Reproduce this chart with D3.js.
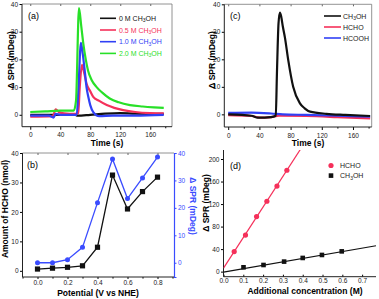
<!DOCTYPE html>
<html>
<head>
<meta charset="utf-8">
<script src="https://cdn.jsdelivr.net/npm/d3@7"></script>
<style>
  body { margin: 0; background: #fff; }
  svg { font-family: "Liberation Sans", Arial, sans-serif; }
  .tick text { font-size: 6.5px; fill: #222; }
  .title { font-size: 8.5px; font-weight: bold; }
</style>
</head>
<body>
<div id="chart"></div>
<script>
// ---- data ----

// (a) SPR response vs time, different CH3OH concentrations [t, mDeg]
var aNames = ["0 M", "0.5 M", "1.0 M", "2.0 M"];
var aColors = ["#111111", "#f5305a", "#3040f5", "#28e028"];
var a0M = [[0,0],[30,0],[60,0],[63,-0.3],[80,0],[100,0.4],[120,0.6],[140,0.4],[178,0.3]];
var a05M = [[0,-0.7],[30,-0.5],[34,2],[38,1],[45,0.5],[60,0.3],[64,0.6],[66,10],[69,18],[72,15],[75,11.3],[80,8.5],[84,6.5],[92,5],[102,3.5],[112,2.5],[124,1.7],[140,1],[160,0.6],[178,0.5]];
var a10M = [[0,-0.3],[25,-0.3],[31,-1],[34,0.3],[40,0],[62,0],[64,8],[67.6,26],[70,22],[73,15],[75,10],[77.4,6.5],[80,3.5],[84,1],[92,-0.5],[110,-0.3],[140,-0.3],[178,0]];
var a20M = [[0,1],[20,1.2],[40,1.5],[58,1.5],[61,5],[65,38.5],[68,32],[70.7,25.8],[74,20],[77,16],[82,12.5],[88.5,10],[96,8],[106,5.9],[118,4.5],[133,3.5],[150,3],[165,2.7],[178,2.5]];

// (c) SPR response vs time, different species
var cNames = ["CH3OH", "HCHO", "HCOOH"];
var cColors = ["#111111", "#f5305a", "#3040f5"];
var cCH3OH = [[0,0],[30,-0.5],[38,-1.2],[55,-1],[61,-0.5],[62.5,15],[64.5,33],[66.3,37],[68,35.5],[70,32],[72.7,28],[77,19.7],[83.3,10],[92,4],[98,2.2],[105,1],[126,0.2],[150,-0.2],[182,-0.6]];
var cHCHO = [[0,-0.3],[30,-0.6],[40,-1.2],[55,-1],[65,-0.5],[100,-0.6],[140,-1],[182,-1.5]];
var cHCOOH = [[0,0.5],[30,0.6],[55,0.3],[70,0],[100,-0.2],[140,-0.5],[182,-0.8]];

// (b) amount of HCHO and SPR vs potential
var bPotential = [0.0, 0.1, 0.2, 0.3, 0.4, 0.5, 0.6, 0.7, 0.8];
var bHCHO = [0.6, 0.9, 1.2, 1.7, 8.0, 32.5, 21, 26.9, 31.8];
var bSPR = [0, 0, 1.1, 5.6, 21.9, 37.8, 23.4, 30.9, 38.5];

// (d) SPR vs additional concentration
var dHCHOx = [0.054, 0.111, 0.167, 0.219, 0.27, 0.32];
var dHCHOy = [35.6, 65, 97.8, 125, 152, 180];
var dCH3OHx = [0.101, 0.202, 0.306, 0.40, 0.497, 0.597];
var dCH3OHy = [7.7, 11.8, 17.8, 24.3, 29.6, 36];
var dHCHOfit = [6.3, 543];   // intercept, slope
var dCH3OHfit = [-1, 61];

var svg = d3.select("#chart").append("svg")
    .attr("width", 379)
    .attr("height", 299);

// draws the frame of a panel: axes, and optionally the top/right box
function frame(x, y, opt) {
    var x0 = x.range()[0], x1 = x.range()[1];
    var y0 = y.range()[0], y1 = y.range()[1];
    var g = svg.append("g");
    var xs = opt.xs == null ? 3 : opt.xs, xp = opt.xp == null ? 3 : opt.xp;
    // bottom
    g.append("g").attr("transform", "translate(0," + y0 + ")")
        .call(d3.axisBottom(x).tickValues(opt.xt).tickFormat(opt.xf).tickSize(xs).tickPadding(xp))
        .call(function(s){ s.select(".domain").remove(); });
    if (opt.xm) {
        g.append("g").attr("transform", "translate(0," + y0 + ")")
            .call(d3.axisBottom(x).tickValues(opt.xm).tickFormat("").tickSize(xs > 0 ? 1.6 : -1.6))
            .call(function(s){ s.select(".domain").remove(); });
    }
    // left
    g.append("g").attr("transform", "translate(" + x0 + ",0)")
        .call(d3.axisLeft(y).tickValues(opt.yt).tickSize(2.5).tickPadding(1.5))
        .call(function(s){ s.select(".domain").remove(); });
    if (opt.box) {
        g.append("g").attr("transform", "translate(0," + y1 + ")")
            .call(d3.axisBottom(x).tickValues(opt.xt).tickFormat("").tickSize(2))
            .call(function(s){ s.select(".domain").remove(); s.selectAll("line").attr("stroke", "#666"); });
        g.append("line").attr("x1", x0).attr("x2", x1).attr("y1", y1).attr("y2", y1)
            .attr("stroke", "#777").attr("stroke-width", 0.8);
        if (!opt.noRight) {
            g.append("line").attr("x1", x1).attr("x2", x1).attr("y1", y1).attr("y2", y0)
                .attr("stroke", "#777").attr("stroke-width", 0.8);
        }
    }
    g.append("line").attr("x1", x0).attr("x2", x1).attr("y1", y0).attr("y2", y0)
        .attr("stroke", "#222").attr("stroke-width", 1);
    g.append("line").attr("x1", x0).attr("x2", x0).attr("y1", y1).attr("y2", y0)
        .attr("stroke", "#222").attr("stroke-width", 1);
}

function chemLabel(sel, prefix) {
    sel.append("tspan").text(prefix + "CH");
    sel.append("tspan").text("3").attr("font-size", "5px").attr("dy", 1.5);
    sel.append("tspan").text("OH").attr("dy", -1.5);
}

var trace = d3.line().curve(d3.curveMonotoneX)
    .x(function(d){ return d[0]; }).y(function(d){ return d[1]; });
var line = d3.line().x(function(d){ return d[0]; }).y(function(d){ return d[1]; });

// ---------- panel (a) ----------
var ax = d3.scaleLinear().domain([-11, 189]).range([22, 172]);
var ay = d3.scaleLinear().domain([-4.3, 40]).range([126.7, 4]);
frame(ax, ay, {xt: [0,40,80,120,160], xm: [20,60,100,140,180], yt: [0,10,20,30,40], box: true});

[a0M, a05M, a10M, a20M].forEach(function(s, i) {
    svg.append("path")
        .attr("d", trace(s.map(function(d){ return [ax(d[0]), ay(d[1])]; })))
        .attr("fill", "none").attr("stroke", aColors[i]).attr("stroke-width", 2.2)
        .attr("stroke-linejoin", "round");
});
aNames.forEach(function(n, i) {
    var yy = 18.3 + i * 11.7;
    svg.append("line").attr("x1", 100).attr("x2", 116).attr("y1", yy).attr("y2", yy)
        .attr("stroke", aColors[i]).attr("stroke-width", 1.6);
    var t = svg.append("text").attr("x", 119).attr("y", yy + 2.5)
        .attr("font-size", "7px").attr("fill", aColors[i]);
    chemLabel(t, n + " ");
});
svg.append("text").attr("x", 28).attr("y", 19).attr("font-size", "9px").text("(a)");
svg.append("text").attr("class", "title").attr("x", 107).attr("y", 146)
    .attr("text-anchor", "middle").text("Time (s)");
svg.append("text").attr("class", "title")
    .attr("transform", "translate(14,60) rotate(-90)")
    .attr("text-anchor", "middle").text("\u0394 SPR (mDeg)");

// ---------- panel (c) ----------
var cx = d3.scaleLinear().domain([-5, 184]).range([224.3, 371.7]);
var cy = d3.scaleLinear().domain([-4.6, 40]).range([127, 4.3]);
frame(cx, cy, {xt: [0,40,80,120,160], xm: [20,60,100,140,180], yt: [0,10,20,30,40], box: true});

[cHCHO, cHCOOH, cCH3OH].forEach(function(s, k) {
    var i = [1, 2, 0][k];
    svg.append("path")
        .attr("d", trace(s.map(function(d){ return [cx(d[0]), cy(d[1])]; })))
        .attr("fill", "none").attr("stroke", cColors[i]).attr("stroke-width", 2.2)
        .attr("stroke-linejoin", "round");
});
cNames.forEach(function(n, i) {
    var yy = 16 + i * 11;
    svg.append("line").attr("x1", 324).attr("x2", 341).attr("y1", yy).attr("y2", yy)
        .attr("stroke", cColors[i]).attr("stroke-width", 1.6);
    var t = svg.append("text").attr("x", 343).attr("y", yy + 2.5)
        .attr("font-size", "7px").attr("fill", "#222");
    if (n == "CH3OH") chemLabel(t, "");
    else t.text(n);
});
svg.append("text").attr("x", 230).attr("y", 19).attr("font-size", "9px").text("(c)");
svg.append("text").attr("class", "title").attr("x", 308).attr("y", 146)
    .attr("text-anchor", "middle").text("Time (s)");
svg.append("text").attr("class", "title")
    .attr("transform", "translate(215,60) rotate(-90)")
    .attr("text-anchor", "middle").text("\u0394 SPR (mDeg)");

// ---------- panel (b) ----------
var bx = d3.scaleLinear().domain([-0.1, 0.91]).range([22.5, 174]);
var by = d3.scaleLinear().domain([-2.1, 40]).range([277, 153]);
var by2 = d3.scaleLinear().domain([-5.2, 40]).range([277, 153]);
frame(bx, by, {xt: [0,0.2,0.4,0.6,0.8], xf: d3.format(".1f"), xm: [-0.1,0.1,0.3,0.5,0.7,0.9],
    xs: 2, xp: 1.5, yt: [0,10,20,30,40], box: true, noRight: true});
// right blue axis
var right = svg.append("g").attr("transform", "translate(174,0)")
    .call(d3.axisRight(by2).tickValues([0,10,20,30,40]).tickSize(2.5).tickPadding(1.5));
right.select(".domain").attr("stroke", "#3a4cff").attr("stroke-width", 1.2);
right.selectAll("line").attr("stroke", "#3a4cff");
right.selectAll("text").style("fill", "#3a4cff");

svg.append("path")
    .attr("d", line(bPotential.map(function(p, i){ return [bx(p), by(bHCHO[i])]; })))
    .attr("fill", "none").attr("stroke", "#111").attr("stroke-width", 1.3);
svg.append("path")
    .attr("d", line(bPotential.map(function(p, i){ return [bx(p), by2(bSPR[i])]; })))
    .attr("fill", "none").attr("stroke", "#3a4cff").attr("stroke-width", 1.3);
svg.selectAll(".bsq").data(bPotential).enter().append("rect")
    .attr("x", function(p){ return bx(p) - 2.6; })
    .attr("y", function(p, i){ return by(bHCHO[i]) - 2.6; })
    .attr("width", 5.2).attr("height", 5.2).attr("fill", "#111");
svg.selectAll(".bci").data(bPotential).enter().append("circle")
    .attr("cx", function(p){ return bx(p); })
    .attr("cy", function(p, i){ return by2(bSPR[i]); })
    .attr("r", 2.5).attr("fill", "#3a4cff");
svg.append("text").attr("x", 27).attr("y", 168).attr("font-size", "9px").text("(b)");
svg.append("text").attr("class", "title").attr("x", 98).attr("y", 296)
    .attr("text-anchor", "middle").text("Potential (V vs NHE)");
svg.append("text").attr("class", "title")
    .attr("transform", "translate(8,209) rotate(-90)")
    .attr("text-anchor", "middle").text("Amount of HCHO (nmol)");
svg.append("text").attr("class", "title").attr("fill", "#3a4cff")
    .attr("transform", "translate(190,206) rotate(90)")
    .attr("text-anchor", "middle").text("\u0394 SPR (mDeg)");

// ---------- panel (d) ----------
var dx = d3.scaleLinear().domain([0, 0.77]).range([223.5, 376]);
var dy = d3.scaleLinear().domain([-9, 216]).range([276.7, 150]);
frame(dx, dy, {xt: [0,0.1,0.2,0.3,0.4,0.5,0.6,0.7], xf: d3.format(".1f"), xs: -2, xp: 1.5,
    yt: [0,40,80,120,160,200], box: false});

svg.append("clipPath").attr("id", "dclip").append("rect")
    .attr("x", 223.5).attr("y", 150).attr("width", 160).attr("height", 127);
var dg = svg.append("g").attr("clip-path", "url(#dclip)");
dg.append("line")
    .attr("x1", dx(0)).attr("y1", dy(dCH3OHfit[0]))
    .attr("x2", dx(0.77)).attr("y2", dy(dCH3OHfit[0] + dCH3OHfit[1] * 0.77))
    .attr("stroke", "#111").attr("stroke-width", 1.2);
dg.append("line")
    .attr("x1", dx(0)).attr("y1", dy(dHCHOfit[0]))
    .attr("x2", dx(0.4)).attr("y2", dy(dHCHOfit[0] + dHCHOfit[1] * 0.4))
    .attr("stroke", "#f5305a").attr("stroke-width", 1.2);
dg.selectAll(".dci").data(dHCHOx).enter().append("circle")
    .attr("cx", function(v){ return dx(v); })
    .attr("cy", function(v, i){ return dy(dHCHOy[i]); })
    .attr("r", 2.6).attr("fill", "#f5305a");
dg.selectAll(".dsq").data(dCH3OHx).enter().append("rect")
    .attr("x", function(v){ return dx(v) - 2.3; })
    .attr("y", function(v, i){ return dy(dCH3OHy[i]) - 2.3; })
    .attr("width", 4.6).attr("height", 4.6).attr("fill", "#111");

svg.append("circle").attr("cx", 331).attr("cy", 165.5).attr("r", 2.6).attr("fill", "#f5305a");
svg.append("text").attr("x", 340).attr("y", 168).attr("font-size", "7px").attr("fill", "#222").text("HCHO");
svg.append("rect").attr("x", 328.7).attr("y", 173.3).attr("width", 4.6).attr("height", 4.6).attr("fill", "#111");
chemLabel(svg.append("text").attr("x", 340).attr("y", 178).attr("font-size", "7px").attr("fill", "#222"), "");

svg.append("text").attr("x", 230).attr("y", 169).attr("font-size", "9px").text("(d)");
svg.append("text").attr("class", "title").attr("x", 305).attr("y", 294)
    .attr("text-anchor", "middle").text("Additional concentration (M)");
svg.append("text").attr("class", "title")
    .attr("transform", "translate(209,203) rotate(-90)")
    .attr("text-anchor", "middle").text("\u0394 SPR (mDeg)");
</script>
</body>
</html>
